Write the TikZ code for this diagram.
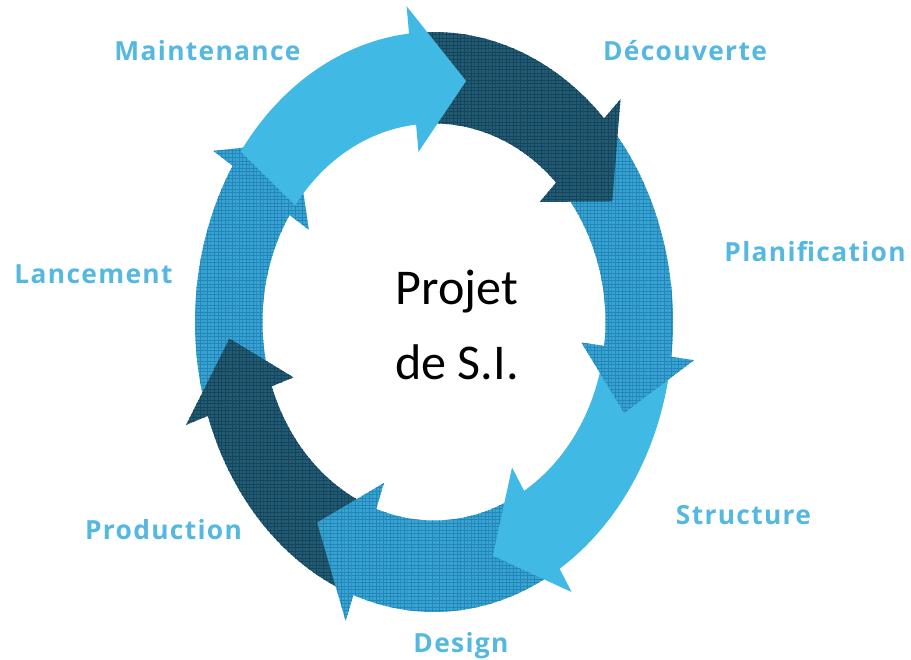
\documentclass[tikz,border=0pt]{standalone}
\usepackage{fontspec}
\usepackage{xcolor}
\usepackage{tikz}
\usetikzlibrary{patterns}
\newfontfamily\labelfont[LetterSpace=5]{Open Sans}
\newfontfamily\titlefont{Carlito}
\definecolor{lightblue}{RGB}{64,186,229}
\definecolor{midblue}{RGB}{56,164,210}
\definecolor{midgrid}{RGB}{36,134,184}
\definecolor{darkblue}{RGB}{34,92,116}
\definecolor{darkgrid}{RGB}{22,68,90}
\definecolor{labelblue}{RGB}{84,184,224}
% fine screen of the textured arrows %
\pgfdeclarepatternformonly{finegrid}{\pgfqpoint{-0.1pt}{-0.1pt}}{\pgfqpoint{2.1pt}{2.1pt}}{\pgfqpoint{2pt}{2pt}}{%
\pgfsetlinewidth{0.45pt}%
\pgfpathmoveto{\pgfqpoint{0pt}{0pt}}\pgfpathlineto{\pgfqpoint{2pt}{0pt}}%
\pgfpathmoveto{\pgfqpoint{0pt}{0pt}}\pgfpathlineto{\pgfqpoint{0pt}{2pt}}%
\pgfusepath{stroke}}

\begin{document}
\begin{tikzpicture}[
  lightarrow/.style={fill=lightblue},
  midarrow/.style={fill=midblue, postaction={pattern=finegrid, pattern color=midgrid}},
  darkarrow/.style={fill=darkblue, postaction={pattern=finegrid, pattern color=darkgrid}},
  phase/.style={text=labelblue, font=\labelfont\bfseries\fontsize{15}{18}\selectfont, anchor=base},
  title/.style={text=black, font=\titlefont\fontsize{28.5}{34}\selectfont, anchor=base}]
\useasboundingbox (0,0) rectangle (18.22,13.2);
\def\rox{4.78}; \def\roy{5.8};   %outer ring%
\def\rix{3.43}; \def\riy{3.97};  %inner ring%
\def\rmx{4.1};  \def\rmy{4.88};  %middle, tips%
\def\hox{5.24}; \def\hoy{6.35};  %head, outside%
\def\hix{2.97}; \def\hiy{3.42};  %head, inside%
% #1 style, #2 tail angle, #3 head base, #4 tip %
\def\cyclearrow#1#2#3#4{%
\fill[#1] ({#2}:{\rox} and {\roy}) arc[start angle=#2, end angle=#3, x radius=\rox, y radius=\roy]
  -- ({#3}:{\hox} and {\hoy}) -- ({#4}:{\rmx} and {\rmy}) -- ({#3}:{\hix} and {\hiy})
  -- ({#3}:{\rix} and {\riy}) arc[start angle=#3, end angle=#2, x radius=\rix, y radius=\riy] -- cycle;}
\coordinate (O) at (8.68,6.76);

\begin{scope}[shift={(O)}]
\cyclearrow{midarrow}{-164.6}{-212.6}{-227.6}  %Lancement%
\cyclearrow{darkarrow}{-113.1}{-161.1}{-176.1} %Production%
\cyclearrow{midarrow}{-61.7}{-109.7}{-124.7}   %Design%
\cyclearrow{lightarrow}{-10.3}{-58.3}{-73.3}   %Structure%
\cyclearrow{midarrow}{41.1}{-6.9}{-21.9}       %Planification%
\cyclearrow{darkarrow}{92.6}{44.6}{29.6}       %Decouverte%
\cyclearrow{lightarrow}{144}{96}{81}           %Maintenance%
\end{scope}

% phase names %
\node[phase] (maintenance) at (4.15,11.98) {Maintenance};
\node[phase] (decouverte) at (13.7,11.98) {Découverte};
\node[phase] (planification) at (16.3,7.96) {Planification};
\node[phase] (structure) at (14.87,2.7) {Structure};
\node[phase] (design) at (9.22,0.14) {Design};
\node[phase] (production) at (3.27,2.4) {Production};
\node[phase] (lancement) at (1.87,7.52) {Lancement};

% centre %
\node[title] (projet) at (9.14,7.1) {Projet};
\node[title] (desi) at (9.14,5.6) {de S.I.};
\end{tikzpicture}
\end{document}
